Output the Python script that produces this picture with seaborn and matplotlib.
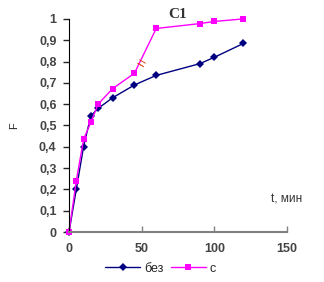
import pandas as pd
import numpy as np
import seaborn as sns
import matplotlib.pyplot as plt
from matplotlib.ticker import FuncFormatter

t = [0, 5, 10, 15, 20, 30, 45, 60, 90, 100, 120]
f_bez = [0, 0.2, 0.4, 0.545, 0.58, 0.63, 0.69, 0.735, 0.79, 0.82, 0.885]
f_s = [0, 0.24, 0.435, 0.515, 0.6, 0.673, 0.745, 0.955, 0.978, 0.988, 1.0]
series = ['без', 'с']

df = pd.DataFrame({
    't': t + t,
    'F': f_bez + f_s,
    'series': [series[0]] * len(t) + [series[1]] * len(t),
})

sns.set_style('white')
plt.rcParams['font.family'] = ['Liberation Sans', 'DejaVu Sans']

fig = plt.figure(figsize=(3.24, 2.82), dpi=100)
ax = fig.add_axes([0.213, 0.177, 0.673, 0.756])

sns.lineplot(data=df, x='t', y='F', hue='series', style='series',
             palette={'без': '#000080', 'с': '#FF00FF'},
             markers={'без': 'D', 'с': 's'}, dashes=False,
             markersize=4.5, linewidth=1, markeredgewidth=0,
             ax=ax, legend=True, clip_on=False)

ax.set_xlim(0, 150)
ax.set_ylim(0, 1)
ax.set_xticks([0, 50, 100, 150])
ax.set_yticks(np.arange(0, 1.01, 0.1))
ax.yaxis.set_major_formatter(FuncFormatter(lambda v, p: ('%g' % round(v, 1)).replace('.', ',')))
ax.tick_params(axis='y', direction='out', length=4, width=1, labelsize=9, pad=5)
ax.tick_params(axis='x', direction='in', length=4, width=1, labelsize=9, pad=8, color='#808080')
ax.tick_params(left=True, bottom=True)
for lab in ax.get_xticklabels() + ax.get_yticklabels():
    lab.set_fontweight('bold')
    lab.set_color('#444444')

sns.despine(ax=ax)
ax.spines['left'].set_color('black')
ax.spines['bottom'].set_color('#808080')
ax.spines['bottom'].set_linewidth(1.5)

ax.set_xlabel('')
ax.set_ylabel('F', fontsize=8, labelpad=14)
ax.set_title('C1', fontsize=11, family='Liberation Serif', fontweight='bold',
             color='#333333', pad=1)
ax.text(1.0, 0.14, 't, мин', transform=ax.transAxes, fontsize=8.5, ha='center', color='#333333')

# break mark on the 'с' curve
ax.text(48.5, 0.785, '=', color='#E04010', fontsize=11, ha='center', va='center', rotation=-30)

handles, labels = ax.get_legend_handles_labels()
ax.legend(handles, labels, loc='upper center', bbox_to_anchor=(0.42, -0.09),
          ncol=2, frameon=False, fontsize=9, handlelength=2.8, columnspacing=0.6,
          handletextpad=0.3)

fig.savefig('out.png', dpi=100)
